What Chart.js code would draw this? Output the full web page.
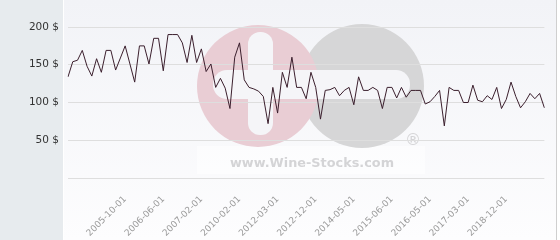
<!DOCTYPE html>
<html><head><meta charset="utf-8">
<script src="https://cdn.jsdelivr.net/npm/chart.js@4/dist/chart.umd.min.js"></script>
<style>html,body{margin:0;padding:0;background:#fff}#wrap{width:560px;height:240px;position:relative}</style>
</head><body><div id="wrap"><canvas id="c" width="560" height="240"></canvas></div>
<script>
// ---- data ----
const prices = [
  134,154,156,169,148,135,158,140,169,169,
  143,159,175,151,127,175,175,151,185,185,
  142,190,190,190,179,153,189,153,171,141,
  151,120,132,119,92,160,179,130,120,118,
  115,108,72,120,86,140,120,160,120,120,
  105,140,120,78,116,117,120,109,116,120,
  97,134,116,116,120,116,92,120,120,106,
  120,107,116,116,116,98,101,108,116,69,
  120,116,116,100,100,123,103,101,109,104,
  120,92,104,127,108,93,101,112,105,112,
  93
];
const tickLabels = ['2005-10-01','2006-06-01','2007-02-01','2010-02-01','2012-03-01','2012-12-01','2014-05-01','2015-06-01','2016-05-01','2017-03-01','2018-12-01'];
const firstLabelIndex = 12;
const labelStep = 8;
const yTickValues = [0, 50, 100, 150, 200];
const currency = '$';

const categories = prices.map((_, i) => {
  const k = (i - firstLabelIndex) / labelStep;
  return (k >= 0 && Number.isInteger(k) && k < tickLabels.length) ? tickLabels[k] : '';
});

const bgPlugin = {
  id: 'bg',
  beforeDraw(chart) {
    const ctx = chart.ctx, W = chart.width, H = chart.height;
    ctx.save();
    const g = ctx.createLinearGradient(0, 0, 0, H);
    g.addColorStop(0, '#f2f3f7');
    g.addColorStop(1, '#fdfdfe');
    ctx.fillStyle = g; ctx.fillRect(0, 0, W, H);
    ctx.fillStyle = '#e7ebee'; ctx.fillRect(0, 0, 63, H);
    ctx.fillStyle = '#ffffff'; ctx.fillRect(63, 0, 1, H);
    ctx.fillStyle = '#cfcfcf'; ctx.fillRect(556, 0, 1, H);
    ctx.fillStyle = '#ffffff'; ctx.fillRect(557, 0, 3, H);
    // watermark logo
    ctx.fillStyle = 'rgba(255,255,255,0.55)'; ctx.fillRect(197, 146, 228, 28);
    ctx.fillStyle = '#d6d6d7';
    ctx.beginPath(); ctx.arc(362, 86, 62, 0, Math.PI * 2); ctx.fill();
    ctx.fillStyle = '#e9cdd4';
    ctx.beginPath(); ctx.arc(258, 86, 61, 0, Math.PI * 2); ctx.fill();
    ctx.fillStyle = '#f5f5f8';
    ctx.beginPath(); ctx.roundRect(213, 70, 197, 29, 14); ctx.fill();
    ctx.beginPath(); ctx.roundRect(248, 32, 25, 103, 12); ctx.fill();
    ctx.fillStyle = '#d4d4d6';
    ctx.font = 'bold 13px "DejaVu Sans"';
    ctx.textAlign = 'center'; ctx.textBaseline = 'alphabetic';
    ctx.fillText('www.Wine-Stocks.com', 312, 167, 164);
    ctx.font = '16px "DejaVu Sans"';
    ctx.fillText('®', 413, 145);
    ctx.restore();
  }
};

new Chart(document.getElementById('c'), {
  type: 'line',
  data: {
    labels: categories,
    datasets: [{
      data: prices,
      borderColor: '#3b1f2d',
      borderWidth: 1,
      pointRadius: 0,
      tension: 0,
      fill: false
    }]
  },
  options: {
    responsive: false,
    devicePixelRatio: 1,
    animation: false,
    layout: { padding: { top: 27, right: 5, left: 0, bottom: 0 } },
    plugins: { legend: { display: false }, tooltip: { enabled: false } },
    scales: {
      x: {
        grid: { display: false },
        border: { display: false },
        ticks: {
          autoSkip: false, maxRotation: 45, minRotation: 45,
          color: '#9a9a9a', font: { family: 'DejaVu Sans', size: 9 }, padding: 8
        },
        afterFit(s) { s.height = 62; }
      },
      y: {
        min: yTickValues[0], max: yTickValues[yTickValues.length - 1],
        afterBuildTicks(s) { s.ticks = yTickValues.map(v => ({ value: v })); },
        ticks: {
          color: '#333333', font: { family: 'DejaVu Sans', size: 10.5 }, padding: 9,
          callback: v => v === 0 ? '' : v + ' ' + currency
        },
        grid: { color: '#dedede', drawTicks: false },
        border: { display: false },
        afterFit(s) { s.width = 68; }
      }
    }
  },
  plugins: [bgPlugin]
});
</script>
</body></html>
